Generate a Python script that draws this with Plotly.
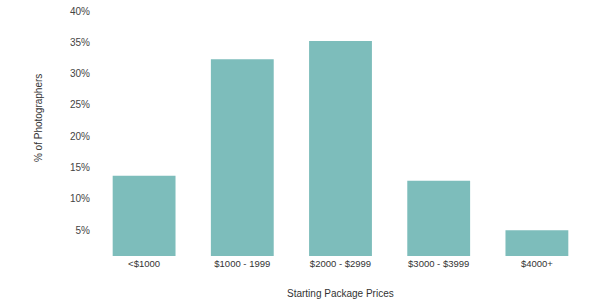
import plotly.graph_objects as go

categories = ["<$1000", "$1000 - 1999", "$2000 - $2999", "$3000 - $3999", "$4000+"]
values = [13.7, 32.3, 35.2, 12.9, 5.0]
tick_vals = [5, 10, 15, 20, 25, 30, 35, 40]
tick_text = ["5%", "10%", "15%", "20%", "25%", "30%", "35%", "40%"]

fig = go.Figure(go.Bar(x=categories, y=values, marker_color="#7dbdbb", marker_line_width=0))

font = dict(family="Liberation Sans, Arial, sans-serif", size=10, color="#444")
fig.update_layout(
    width=600, height=300,
    margin=dict(l=95, r=14, t=11, b=44),
    paper_bgcolor="white", plot_bgcolor="white",
    bargap=0.36,
    showlegend=False,
    font=font,
    xaxis=dict(showgrid=False, showline=False, zeroline=False, ticks="",
               automargin=False, tickfont=dict(size=9.5, color="#333")),
    yaxis=dict(range=[0.9, 40], tickvals=tick_vals, ticktext=tick_text,
               showgrid=False, showline=False, zeroline=False, ticks="",
               automargin=False,
               tickfont=dict(size=10, color="#444"), ticklabelstandoff=4),
    annotations=[
        dict(text="Starting Package Prices", xref="paper", yref="paper",
             x=0.5, y=0, yshift=-37, showarrow=False, yanchor="middle",
             font=dict(size=10, color="#333")),
        dict(text="% of Photographers", xref="paper", yref="paper",
             x=0, xshift=-57, y=0.563, showarrow=False, textangle=-90,
             xanchor="center", yanchor="middle",
             font=dict(size=10, color="#333")),
    ],
)

fig.write_html("out.html")
